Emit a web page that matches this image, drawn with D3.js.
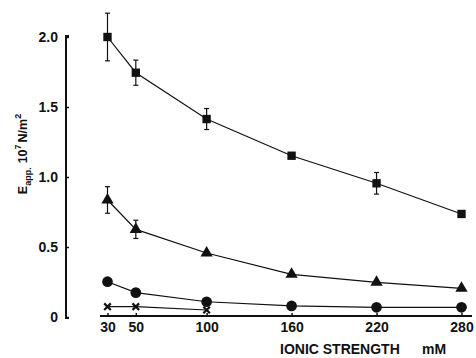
<!DOCTYPE html>
<html>
<head>
<meta charset="utf-8">
<title>Eapp vs ionic strength</title>
<style>
    body { margin: 0; background: white; }
    text { font-family: "Liberation Sans", Arial, sans-serif; fill: #111; }
    .tick text { font-size: 14px; font-weight: bold; }
</style>
</head>
<body>
<div id="chart"></div>
<script src="https://cdn.jsdelivr.net/npm/d3@7/dist/d3.min.js"></script>
<script>
    // ionic strength (mM)
    let ionic = [30, 50, 100, 160, 220, 280]
    let xTicks = [30, 50, 100, 160, 220, 280]
    let yTicks = [0, 0.5, 1.0, 1.5, 2.0]

    let squareVals = [2.0, 1.745, 1.414, 1.152, 0.955, 0.736]
    let squareErr = [0.17, 0.09, 0.075, 0, 0.077, 0]
    let triVals = [0.836, 0.626, 0.457, 0.305, 0.248, 0.205]
    let triErr = [0.095, 0.065, 0, 0, 0, 0]
    let circleVals = [0.252, 0.174, 0.109, 0.079, 0.069, 0.069]
    let crossIonic = [30, 50, 100]
    let crossVals = [0.074, 0.074, 0.05]

    let width = 476, height = 358

    let svg = d3.select("#chart").append("svg")
        .attr("width", width)
        .attr("height", height)

    let x = d3.scaleLinear().domain([30, 280]).range([107.5, 461.5])
    let y = d3.scaleLinear().domain([0, 2]).range([317, 37])

    // y axis
    let yAxis = svg.append("g")
        .attr("transform", "translate(66,0)")
        .call(d3.axisRight(y).tickValues(yTicks).tickSize(3)
            .tickFormat(d => d === 0 ? "0" : d3.format(".1f")(d)))
    yAxis.select(".domain").attr("d", "M3," + (y(2) - 1) + "H0V" + (y(0) + 1) + "H3")
        .attr("stroke", "#111").attr("stroke-width", 2)
    yAxis.selectAll(".tick line").attr("stroke", "#111").attr("stroke-width", 1.5)
    yAxis.selectAll(".tick text")
        .attr("x", -8).attr("text-anchor", "end").attr("dy", "0.35em")

    // x axis
    let xAxis = svg.append("g")
        .attr("transform", "translate(0,316)")
        .call(d3.axisBottom(x).tickValues(xTicks).tickSize(0).tickPadding(6))
    xAxis.select(".domain").attr("d", "M100,0H472")
        .attr("stroke", "#111").attr("stroke-width", 2)
    xAxis.selectAll(".tick").append("line")
        .attr("y2", -3).attr("stroke", "#111").attr("stroke-width", 1.5)

    svg.append("text")
        .attr("x", 280).attr("y", 354)
        .attr("font-size", 14).attr("font-weight", "bold")
        .text("IONIC STRENGTH")
    svg.append("text")
        .attr("x", 422).attr("y", 354)
        .attr("font-size", 14).attr("font-weight", "bold")
        .text("mM")

    // y label
    let ylab = svg.append("text")
        .attr("transform", "translate(27,154) rotate(-90)")
        .attr("text-anchor", "middle")
        .attr("font-size", 12.5).attr("font-weight", "bold")
    ylab.append("tspan").text("E")
    ylab.append("tspan").attr("font-size", 9).attr("dy", 4).text("app.")
    ylab.append("tspan").attr("dy", -4).attr("dx", 4).text("10")
    ylab.append("tspan").attr("font-size", 9).attr("dy", -6).text("7")
    ylab.append("tspan").attr("dy", 6).attr("dx", 2).text("N/m")
    ylab.append("tspan").attr("font-size", 9).attr("dy", -6).text("2")

    let line = d3.line().x(d => x(d[0])).y(d => y(d[1]))

    function drawSeries(xs, vals, errs, symbol, size) {
        let pts = xs.map((v, i) => [v, vals[i]])
        svg.append("path")
            .attr("d", line(pts))
            .attr("fill", "none")
            .attr("stroke", "#111")
            .attr("stroke-width", 1.2)
        if (errs) {
            let g = svg.append("g").attr("stroke", "#111").attr("stroke-width", 1.2)
            pts.forEach((p, i) => {
                if (!errs[i]) return
                let cx = x(p[0]), top = y(p[1] + errs[i]), bot = y(p[1] - errs[i])
                g.append("line").attr("x1", cx).attr("x2", cx).attr("y1", top).attr("y2", bot)
                g.append("line").attr("x1", cx - 2.5).attr("x2", cx + 2.5).attr("y1", top).attr("y2", top)
                g.append("line").attr("x1", cx - 2.5).attr("x2", cx + 2.5).attr("y1", bot).attr("y2", bot)
            })
        }
        svg.append("g").selectAll("path")
            .data(pts)
            .enter()
            .append("path")
            .attr("transform", d => "translate(" + x(d[0]) + "," + y(d[1]) + ")")
            .attr("d", d3.symbol().type(symbol).size(size))
            .attr("fill", "#111")
            .attr("stroke", symbol === d3.symbolX ? "#111" : "none")
            .attr("stroke-width", 2.2)
    }

    drawSeries(crossIonic, crossVals, null, d3.symbolX, 30)
    drawSeries(ionic, circleVals, null, d3.symbolCircle, 90)
    drawSeries(ionic, triVals, triErr, d3.symbolTriangle, 65)
    drawSeries(ionic, squareVals, squareErr, d3.symbolSquare, 70)
</script>
</body>
</html>
